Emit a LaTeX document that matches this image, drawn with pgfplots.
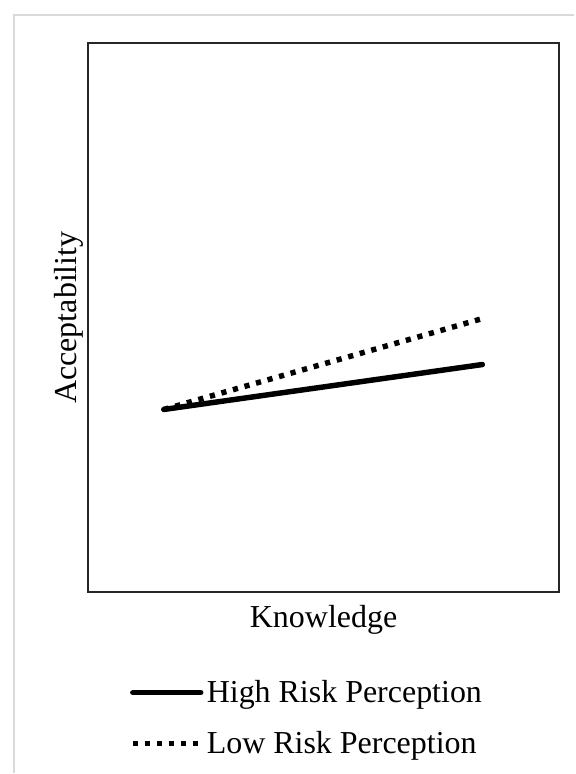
\documentclass[border=0pt]{standalone}
\usepackage{pgfplots}
\pgfplotsset{compat=1.18}
\usepackage{fontspec}
\setmainfont{Liberation Serif}
\definecolor{frame}{HTML}{D9D9D9}
\definecolor{axisc}{HTML}{262626}
\begin{document}
\begin{tikzpicture}
\begin{axis}[
  scale only axis,
  width=354pt, height=412.5pt,
  xmin=88, xmax=560, ymin=181, ymax=731,
  clip=false,
  xtick=\empty, ytick=\empty,
  axis line style={draw=axisc, line width=1.5pt},
  xlabel={Knowledge}, ylabel={Acceptability},
  label style={font=\fontsize{24}{29}\selectfont, inner sep=0pt},
  xlabel style={at={(axis description cs:0.5,-0.024)}, anchor=north},
  ylabel style={at={(axis description cs:-0.008,0.5)}, anchor=south, rotate=0},
  legend style={draw=none, fill=none, inner sep=0pt,
    at={(axis cs:130,55)}, anchor=west,
    font=\fontsize{24}{29}\selectfont,
    row sep=20pt,
    nodes={inner ysep=0pt, inner xsep=2.5pt}},
  legend cell align=left,
  legend image code/.code={\draw[#1] (-2.5pt,0pt) -- (48.5pt,0pt);},
]
\addplot[black, line width=4.1pt, line cap=round] coordinates {(164,364) (483,409)};
\addlegendentry{High Risk Perception}
\addplot[black, line width=4.1pt, dash pattern=on 3.9pt off 5.1pt] coordinates {(164,364) (483,455)};
\addlegendentry{Low Risk Perception}
\draw[frame, line width=1.5pt] (axis cs:14,0) -- (axis cs:14,759) -- (axis cs:575,759);
\useasboundingbox (axis cs:0,0) rectangle (axis cs:575,774);
\end{axis}
\end{tikzpicture}
\end{document}
